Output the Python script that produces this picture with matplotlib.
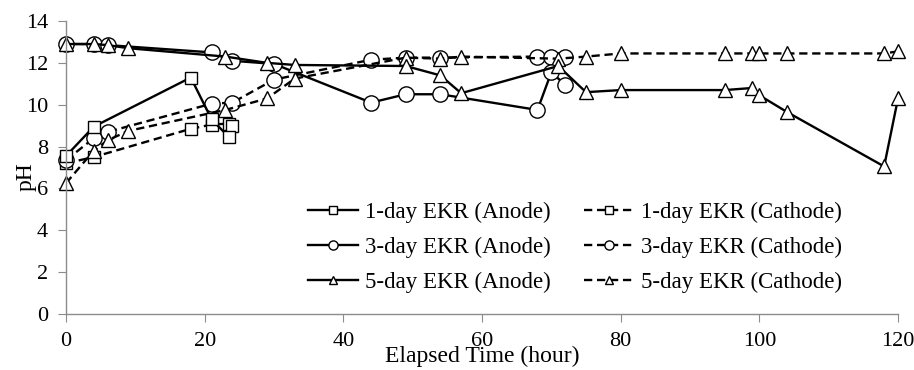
import matplotlib.pyplot as plt

plt.rcParams['font.family'] = ['Liberation Serif', 'DejaVu Serif']

# 1-day EKR
t1_anode = [0, 4, 18, 21, 23.5]
ph1_anode = [7.55, 8.95, 11.3, 9.3, 8.45]
t1_cathode = [0, 4, 18, 21, 23.5, 24]
ph1_cathode = [7.2, 7.5, 8.85, 9.05, 9.1, 9.0]

# 3-day EKR
t3 = [0, 4, 6, 21, 24, 30, 44, 49, 54, 68, 70, 72]
ph3_anode = [12.9, 12.9, 12.85, 12.5, 12.1, 11.95, 10.1, 10.5, 10.5, 9.75, 11.55, 10.95]
ph3_cathode = [7.35, 8.4, 8.7, 10.05, 10.1, 11.2, 12.15, 12.25, 12.25, 12.3, 12.3, 12.3]

# 5-day EKR
t5 = [0, 4, 6, 9, 23, 29, 33, 49, 54, 57, 71, 75, 80, 95, 99, 100, 104, 118, 120]
ph5_anode = [12.9, 12.9, 12.85, 12.7, 12.3, 12.0, 11.9, 11.85, 11.4, 10.55, 11.85,
             10.6, 10.7, 10.7, 10.8, 10.45, 9.65, 7.05, 10.3]
ph5_cathode = [6.25, 7.8, 8.3, 8.75, 9.75, 10.3, 11.25, 12.25, 12.2, 12.3, 12.2,
               12.3, 12.45, 12.45, 12.45, 12.45, 12.45, 12.45, 12.55]

labels_anode = ["1-day EKR (Anode)", "3-day EKR (Anode)", "5-day EKR (Anode)"]
labels_cathode = ["1-day EKR (Cathode)", "3-day EKR (Cathode)", "5-day EKR (Cathode)"]

fig = plt.figure(figsize=(9.14, 3.70), dpi=100)
ax = fig.add_axes([0.0722, 0.1514, 0.9103, 0.7918])

solid = dict(color='black', lw=1.7, ls='-', mfc='white', mec='black', mew=1.0, clip_on=False)
dashed = dict(color='black', lw=1.7, ls=(0, (3.5, 2)), mfc='white', mec='black', mew=1.0,
              clip_on=False)

h1c, = ax.plot(t1_cathode, ph1_cathode, marker='s', ms=9, label=labels_cathode[0], **dashed)
h3c, = ax.plot(t3, ph3_cathode, marker='o', ms=11, label=labels_cathode[1], **dashed)
h5c, = ax.plot(t5, ph5_cathode, marker='^', ms=10, label=labels_cathode[2], **dashed)
h1a, = ax.plot(t1_anode, ph1_anode, marker='s', ms=9, label=labels_anode[0], **solid)
h3a, = ax.plot(t3, ph3_anode, marker='o', ms=11, label=labels_anode[1], **solid)
h5a, = ax.plot(t5, ph5_anode, marker='^', ms=10, label=labels_anode[2], **solid)

ax.set_xlim(0, 120)
ax.set_ylim(0, 14)
ax.set_xticks(range(0, 121, 20))
ax.set_yticks(range(0, 15, 2))

for s in ['top', 'right']:
    ax.spines[s].set_visible(False)
for s in ['left', 'bottom']:
    ax.spines[s].set_color('#8c8c8c')
    ax.spines[s].set_linewidth(1.0)
ax.tick_params(axis='both', colors='#8c8c8c', labelcolor='black', labelsize=16,
               direction='out', length=6)
ax.tick_params(axis='x', pad=7)
ax.tick_params(axis='y', pad=7)

ax.set_xlabel("Elapsed Time (hour)", fontsize=17, va='center')
ax.xaxis.set_label_coords(0.5, -0.145)
ax.set_ylabel("pH", fontsize=17, va='center')
ax.yaxis.set_label_coords(-0.048, 0.47)

leg = ax.legend(handles=[h1a, h3a, h5a, h1c, h3c, h5c], ncol=2, frameon=False,
                fontsize=16.5, markerscale=0.6, handlelength=2.2, handletextpad=0.3,
                columnspacing=1.45, labelspacing=0.6,
                loc='upper left', bbox_to_anchor=(0.266, 0.454))

fig.savefig("out.png", dpi=100)
